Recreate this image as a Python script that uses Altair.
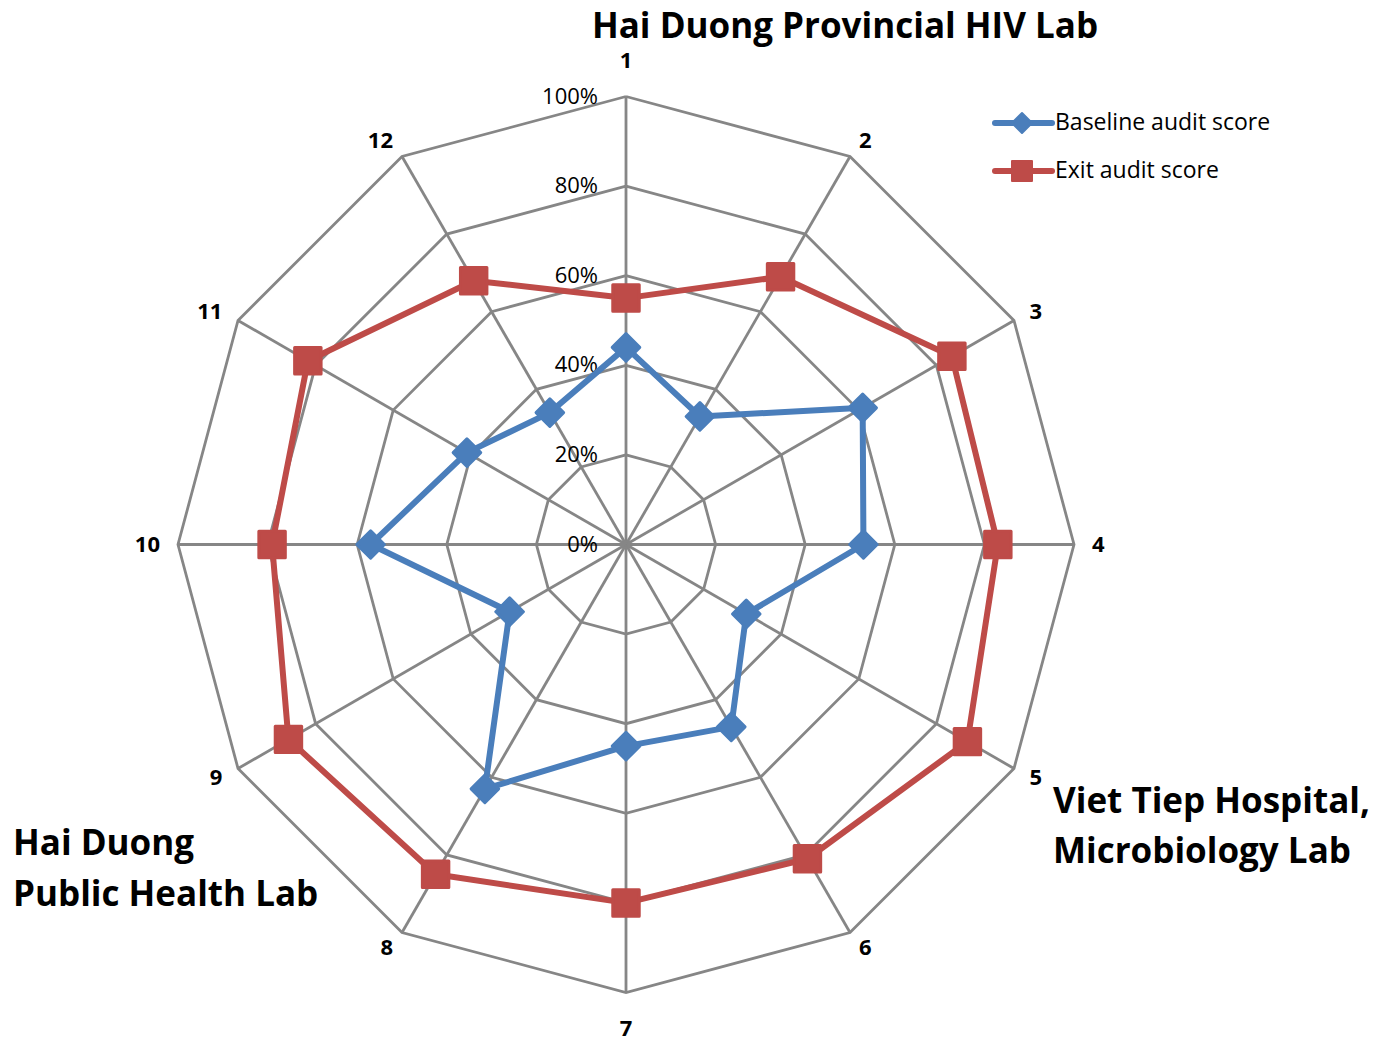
import altair as alt
import pandas as pd

# ---------------- data ----------------
axis_labels = [str(i) for i in range(1, 13)]
series_names = ["Baseline audit score", "Exit audit score"]
baseline = [44, 33, 61, 53, 31, 47, 45, 63, 30, 57, 41, 34]
exit_scores = [55, 69, 84, 83, 88, 81, 80, 85, 87, 79, 82, 68]
grid_levels = [20, 40, 60, 80, 100]
tick_levels = [0, 20, 40, 60, 80, 100]
tick_labels = ["0%", "20%", "40%", "60%", "80%", "100%"]
title_text = "Hai Duong Provincial HIV Lab"
note_right = "Viet Tiep Hospital,\nMicrobiology Lab"
note_left = "Hai Duong\nPublic Health Lab"

BLUE = "#4A7EBB"
RED = "#BE4B48"
GRID = "#868686"
FONT = "Open Sans"

# ---------------- tables built from the lists ----------------
n = len(axis_labels)
rows = []
for s, vals in zip(series_names, [baseline, exit_scores]):
    for k in range(n + 1):
        rows.append({"series": s, "k": k, "value": vals[k % n]})
series_df = pd.DataFrame(rows)

ring_df = pd.DataFrame([{"level": lv, "k": k} for lv in grid_levels for k in range(n + 1)])
spoke_df = pd.DataFrame({"k": list(range(n)), "label": axis_labels})
tick_df = pd.DataFrame({"level": tick_levels, "label": tick_labels})
legend_df = pd.DataFrame({"series": series_names, "idx": [0, 1]})

W, H = 1365, 1031
R = 448.0
CX, CY = 618.0, 536.5
xdom = [-CX / R, (W - CX) / R]
ydom = [-(H - CY) / R, CY / R]
xs = alt.Scale(domain=xdom, nice=False, zero=False)
ys = alt.Scale(domain=ydom, nice=False, zero=False)

def X(f):
    return alt.X(f"{f}:Q", scale=xs, axis=None)

def Y(f):
    return alt.Y(f"{f}:Q", scale=ys, axis=None)

ANG = "PI/2 - datum.k*PI/6"
color_scale = alt.Scale(domain=series_names, range=[BLUE, RED])

# ---------------- grid ----------------
rings = alt.Chart(ring_df).transform_calculate(
    ang=ANG
).transform_calculate(
    px="datum.level/100*cos(datum.ang)", py="datum.level/100*sin(datum.ang)"
).mark_line(color=GRID, strokeWidth=2.8, strokeJoin="miter").encode(
    x=X("px"), y=Y("py"), detail="level:N", order="k:Q"
)

spokes = alt.Chart(spoke_df).transform_calculate(
    ang=ANG
).transform_calculate(
    px="cos(datum.ang)", py="sin(datum.ang)", ox="0", oy="0"
).mark_rule(color=GRID, strokeWidth=2.8).encode(
    x=X("ox"), y=Y("oy"), x2="px:Q", y2="py:Q"
)

ticks = alt.Chart(tick_df).transform_calculate(
    px=f"{-28 / R}", py="datum.level/100"
).mark_text(align="right", baseline="middle", font=FONT, fontSize=22, color="#000000").encode(
    x=X("px"), y=Y("py"), text="label:N"
)

# axis number labels
def num_layer(cond, align, gap_px):
    return alt.Chart(spoke_df).transform_calculate(
        ang=ANG
    ).transform_calculate(
        c="cos(datum.ang)", s="sin(datum.ang)"
    ).transform_filter(cond).transform_calculate(
        px=f"cos(datum.ang) + {gap_px / R}*cos(datum.ang)",
        py=f"sin(datum.ang) + {gap_px / R}*sin(datum.ang)",
    ).mark_text(align=align, baseline="middle", font=FONT, fontWeight="bold",
                fontSize=22, color="#000000").encode(
        x=X("px"), y=Y("py"), text="label:N"
    )

nums_r = num_layer("datum.c > 0.1", "left", 18)
nums_l = num_layer("datum.c < -0.1", "right", 18)
nums_c = num_layer("abs(datum.c) <= 0.1", "center", 36)

# ---------------- series ----------------
def series_layers(name, shape, size):
    base = alt.Chart(series_df).transform_filter(
        alt.datum.series == name
    ).transform_calculate(
        ang=ANG
    ).transform_calculate(
        px="datum.value/100*cos(datum.ang)", py="datum.value/100*sin(datum.ang)"
    )
    line = base.mark_line(strokeWidth=6, strokeJoin="round").encode(
        x=X("px"), y=Y("py"), order="k:Q",
        color=alt.Color("series:N", scale=color_scale, legend=None),
    )
    pts = base.transform_filter("datum.k < 12").mark_point(
        shape=shape, size=size, filled=True, opacity=1, strokeWidth=3,
        strokeJoin="round", strokeOpacity=1
    ).encode(
        x=X("px"), y=Y("py"),
        color=alt.Color("series:N", scale=color_scale, legend=None),
        stroke=alt.Stroke("series:N", scale=color_scale, legend=None),
    )
    return line + pts

base_layers = series_layers(series_names[0], "diamond", 760)
exit_layers = series_layers(series_names[1], "square", 700)

# ---------------- legend ----------------
lx0, lx1, lxm, ltx = (987 - CX) / R, (1044 - CX) / R, (1014 - CX) / R, (1047 - CX) / R
ly0 = (CY - 115) / R
lstep = 48 / R
leg = alt.Chart(legend_df).transform_calculate(
    ly=f"{ly0} - datum.idx*{lstep}", a=f"{lx0}", b=f"{lx1}", m=f"{lxm}", t=f"{ltx}"
)
leg_line = leg.mark_rule(strokeWidth=6, strokeCap="round").encode(
    x=X("a"), x2="b:Q", y=Y("ly"),
    color=alt.Color("series:N", scale=color_scale, legend=None),
)
leg_d = leg.transform_filter("datum.idx == 0").mark_point(
    shape="diamond", size=400, filled=True, opacity=1, strokeWidth=2, strokeJoin="round"
).encode(x=X("m"), y=Y("ly"), color=alt.Color("series:N", scale=color_scale, legend=None),
         stroke=alt.Stroke("series:N", scale=color_scale, legend=None))
leg_s = leg.transform_filter("datum.idx == 1").mark_point(
    shape="square", size=400, filled=True, opacity=1, strokeWidth=2, strokeJoin="round"
).encode(x=X("m"), y=Y("ly"), color=alt.Color("series:N", scale=color_scale, legend=None),
         stroke=alt.Stroke("series:N", scale=color_scale, legend=None))
leg_t = leg.mark_text(align="left", baseline="middle", font=FONT, fontSize=23, color="#000000").encode(
    x=X("t"), y=Y("ly"), text="series:N"
)

# ---------------- annotations ----------------
title = alt.Chart(pd.DataFrame({"t": [title_text]})).mark_text(
    align="center", baseline="alphabetic", font=FONT, fontWeight="bold", fontSize=35, color="#000000"
).encode(x=alt.value(837), y=alt.value(30), text="t:N")

note_r = alt.Chart(pd.DataFrame({"t": [note_right]})).mark_text(
    align="left", baseline="alphabetic", font=FONT, fontWeight="bold", fontSize=35,
    lineBreak="\n", lineHeight=50, color="#000000"
).encode(x=alt.value(1045), y=alt.value(805), text="t:N")

note_l = alt.Chart(pd.DataFrame({"t": [note_left]})).mark_text(
    align="left", baseline="alphabetic", font=FONT, fontWeight="bold", fontSize=35,
    lineBreak="\n", lineHeight=51, color="#000000"
).encode(x=alt.value(5), y=alt.value(847), text="t:N")

chart = alt.layer(
    rings, spokes, ticks, nums_r, nums_l, nums_c,
    base_layers, exit_layers,
    leg_line, leg_d, leg_s, leg_t,
    title, note_r, note_l,
).properties(
    width=W, height=H, padding=0, autosize=alt.AutoSizeParams(type="none"),
    background="#ffffff"
).configure_view(stroke=None)

chart.save("out.html", embed_options={"renderer": "svg", "actions": False})
